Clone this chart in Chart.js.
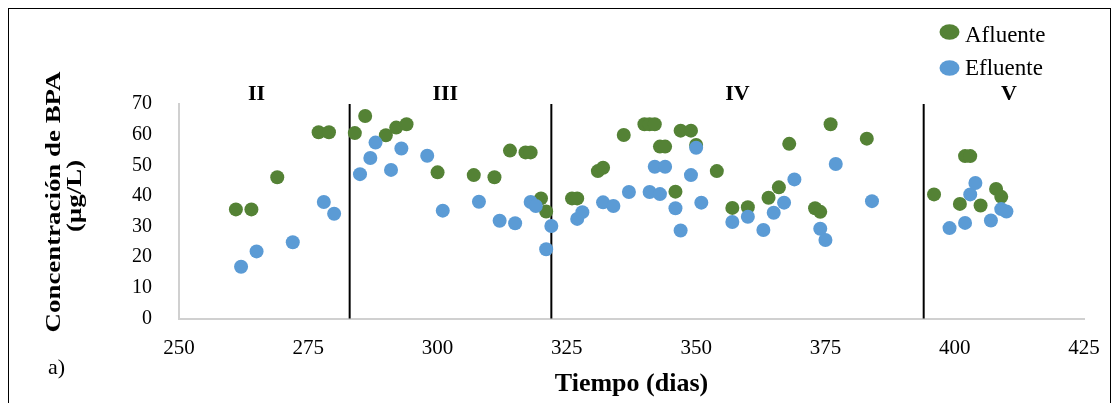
<!DOCTYPE html>
<html><head><meta charset="utf-8">
<script src="https://cdn.jsdelivr.net/npm/chart.js@4/dist/chart.umd.min.js"></script>
<style>html,body{margin:0;padding:0;background:#fff;}</style>
</head><body>
<canvas id="c" width="1118" height="403"></canvas>
<script>
// ---- data ----
const afluenteDias = [261,264,269,277,279,284,286,290,292,294,300,307,311,314,317,318,320,321,326,327,331,332,336,340,341,342,343,344,346,347,349,350,354,357,360,364,366,368,373,374,376,383,396,401,402,403,405,408,409];
const afluenteBPA  = [35.6,35.6,46.1,60.8,60.8,60.5,66.1,59.8,62.3,63.4,47.7,46.8,46.1,54.8,54.2,54.2,39.2,34.9,39.2,39.2,48.1,49.2,59.9,63.4,63.4,63.4,56.1,56.1,41.4,61.3,61.3,56.6,48.1,36.1,36.3,39.4,42.8,57.0,36.0,34.8,63.4,58.7,40.5,37.4,53.0,53.0,36.9,42.3,39.7];
const efluenteDias = [262,265,272,278,280,285,287,288,291,293,298,301,308,312,315,318,319,321,322,327,328,332,334,337,341,342,343,344,346,347,349,350,351,357,360,363,365,367,369,374,375,377,384,399,402,403,404,407,409,410];
const efluenteBPA  = [16.9,21.9,24.9,38.0,34.2,47.1,52.4,57.4,48.5,55.5,53.1,35.2,38.1,31.9,31.1,38.0,36.7,22.6,30.2,32.5,34.7,37.9,36.7,41.3,41.3,49.5,40.6,49.5,36.0,28.7,46.8,55.7,37.8,31.5,33.2,28.9,34.5,37.8,45.4,29.3,25.6,50.4,38.3,29.5,31.2,40.5,44.2,32.0,35.7,34.9];
const phaseLines = [283, 322, 394];
const phaseLabels = ['II', 'III', 'IV', 'V'];
const phaseLabelDias = [265, 301.5, 358, 410.5];
const xTickValues = [250, 275, 300, 325, 350, 375, 400, 425];
const yTickValues = [0, 10, 20, 30, 40, 50, 60, 70];
const seriesNames = ['Afluente', 'Efluente'];
const xTitle = 'Tiempo (dias)';
const yTitle = ['Concentración de BPA', '(µg/L)'];

const FONT = '"Liberation Serif", "Times New Roman", serif';
const GREEN = '#548235', BLUE = '#5B9BD5';

const toPts = (xs, ys) => xs.map((x, i) => ({x, y: ys[i]}));

const datasets = [
  {label: seriesNames[0], data: toPts(afluenteDias, afluenteBPA), backgroundColor: GREEN, borderColor: GREEN,
   pointRadius: 7, pointHoverRadius: 7, borderWidth: 0, order: 2},
  {label: seriesNames[1], data: toPts(efluenteDias, efluenteBPA), backgroundColor: BLUE, borderColor: BLUE,
   pointRadius: 7, pointHoverRadius: 7, borderWidth: 0, order: 1}
];
phaseLines.forEach(d => datasets.push({
  label: '', data: [{x: d, y: 0}, {x: d, y: 70}], showLine: true, borderColor: '#000', borderWidth: 2,
  pointRadius: 0, pointHoverRadius: 0, order: 5, clip: false
}));

const decor = {
  id: 'decor',
  beforeDraw(chart) {
    const ctx = chart.ctx;
    ctx.save(); ctx.fillStyle = '#fff'; ctx.fillRect(0, 0, chart.width, chart.height); ctx.restore();
  },
  afterDraw(chart) {
    const ctx = chart.ctx, xs = chart.scales.x;
    ctx.save();
    ctx.strokeStyle = '#000'; ctx.lineWidth = 1;
    ctx.strokeRect(8.5, 8.5, 1102, 420);
    ctx.fillStyle = '#000';
    // y axis title (two lines, rotated)
    ctx.font = 'bold 21px ' + FONT; ctx.textAlign = 'center'; ctx.textBaseline = 'middle';
    [[55, 202], [76, 196]].forEach((p, i) => {
      ctx.save();
      ctx.translate(p[0], p[1]); ctx.rotate(-Math.PI / 2); ctx.scale(1.28, 1);
      ctx.fillText(yTitle[i], 0, 0);
      ctx.restore();
    });
    ctx.font = 'bold 22px ' + FONT;
    phaseLabels.forEach((t, i) => ctx.fillText(t, xs.getPixelForValue(phaseLabelDias[i]), 94));
    ctx.font = '22px ' + FONT; ctx.textAlign = 'left';
    ctx.fillText('a)', 48, 368);
    // legend
    const items = [{c: GREEN, y: 32, base: 41.5}, {c: BLUE, y: 68, base: 75}];
    ctx.font = '23px ' + FONT; ctx.textBaseline = 'alphabetic';
    items.forEach((it, i) => {
      ctx.fillStyle = it.c;
      ctx.beginPath(); ctx.ellipse(949.5, it.y, 10, 7.8, 0, 0, Math.PI * 2); ctx.fill();
      ctx.fillStyle = '#000';
      ctx.fillText(chart.data.datasets[i].label, 965, it.base);
    });
    ctx.restore();
  }
};

new Chart(document.getElementById('c'), {
  type: 'scatter',
  data: {datasets},
  plugins: [decor],
  options: {
    responsive: false, animation: false, devicePixelRatio: 1,
    layout: {padding: {left: 0, top: 104, right: 34, bottom: 0}},
    plugins: {legend: {display: false}, tooltip: {enabled: false}},
    scales: {
      x: {
        type: 'linear', min: 250, max: 425,
        afterBuildTicks: s => { s.ticks = xTickValues.map(v => ({value: v})); },
        afterFit: s => { s.height = 84.5; },
        ticks: {font: {family: FONT, size: 21}, color: '#000', padding: 17, maxRotation: 0},
        grid: {display: false, drawTicks: false},
        border: {display: true, color: '#d0d0d0', width: 2},
        title: {display: true, text: xTitle, color: '#000', font: {family: FONT, size: 26, weight: 'bold', lineHeight: 1.2}, padding: {top: 0, bottom: 3}}
      },
      y: {
        min: 0, max: 70,
        afterBuildTicks: s => { s.ticks = yTickValues.map(v => ({value: v})); },
        afterFit: s => { s.width = 179; },
        ticks: {font: {family: FONT, size: 20}, color: '#000', padding: 27},
        grid: {display: false, drawTicks: false},
        border: {display: true, color: '#d0d0d0', width: 2},
        title: {display: false}
      }
    }
  }
});
</script>
</body></html>
